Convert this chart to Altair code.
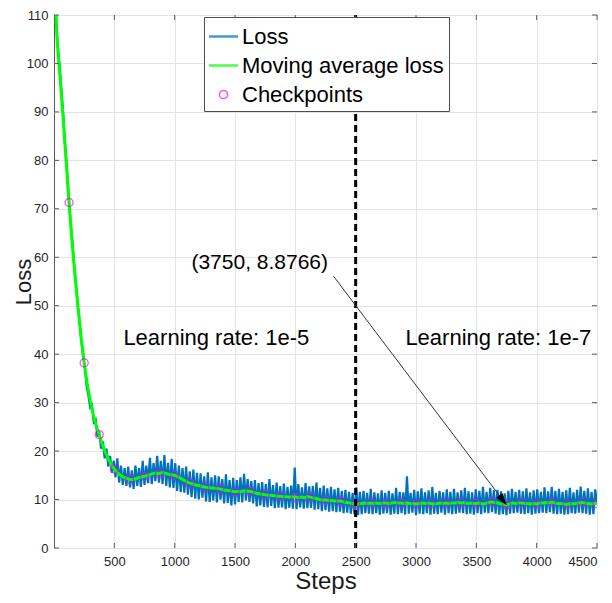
import altair as alt
import pandas as pd

FONT = "Liberation Sans"
FRAME = "#5a5a5a"

# ---------------- data ----------------
x_ticks = [500, 1000, 1500, 2000, 2500, 3000, 3500, 4000, 4500]
y_ticks = [0, 10, 20, 30, 40, 50, 60, 70, 80, 90, 100, 110]

loss_steps = list(range(0, 4501, 15))
loss_values = [
    125, 110, 104, 100, 95, 90, 84, 79, 73, 68,
    64, 59, 55, 50.5, 47, 43, 40, 37.5, 33.5, 31.5,
    29, 29.5, 26, 26.5, 23, 24, 20.5, 22, 18.5, 20.5,
    16.8, 19, 15.5, 18, 14.6, 18.5, 13.5, 17, 13, 16.5,
    12.8, 16.8, 12.5, 16, 12.2, 17, 12.8, 16.5, 12.6, 18,
    13, 17, 13.4, 18.6, 13.2, 17.5, 13.8, 19, 13.5, 18,
    13.2, 19.2, 12.8, 17.6, 12.5, 18.4, 12.4, 17.5, 11.8, 17,
    11.5, 16.5, 11.4, 16.8, 11, 15.8, 10.5, 16.2, 10.2, 15.5,
    10, 15.4, 10.4, 14.8, 9.6, 15.6, 9.5, 14.6, 9.8, 15,
    9.4, 14.8, 10, 14.2, 9.2, 15.2, 9.3, 14, 8.8, 14.5,
    9, 14, 9.5, 14.6, 9.4, 15.3, 9.8, 14.2, 9.5, 13.8,
    9.2, 14, 8.6, 13.4, 8.8, 13.6, 8.5, 13.2, 8.4, 14.2,
    8.7, 13, 8.2, 13.5, 8.3, 12.8, 8.4, 13.3, 8, 12.6,
    8.3, 12.9, 8.1, 16.6, 8.0, 13.2, 8.4, 12.5, 8.1, 13.4,
    8.2, 12.7, 8.3, 12.8, 7.9, 13.5, 8, 12.4, 7.6, 12.9,
    7.8, 12.3, 7.5, 12.6, 7.6, 12.1, 7.4, 12.4, 7.5, 11.8,
    7.2, 12, 7.3, 11.6, 7.1, 11.4, 7, 12.5, 6.8, 11.6,
    7, 11.8, 7.2, 11.4, 7.1, 12.2, 7, 11.5, 7.2, 11.3,
    6.9, 11.9, 7.1, 11.4, 7.2, 11.8, 6.9, 11.3, 7.1, 12.4,
    7, 11.6, 7.2, 11.5, 6.9, 14.8, 7.1, 11.4, 7.3, 12,
    6.8, 11.7, 7.1, 12.3, 7, 11.5, 7.2, 11.9, 6.9, 12.6,
    7.1, 11.4, 7, 11.8, 7.3, 11.5, 6.9, 12.1, 7.2, 11.6,
    7, 12.2, 7.1, 11.5, 7.3, 11.9, 7.2, 12.4, 7, 11.7,
    7.1, 11.5, 6.9, 12.1, 7.2, 11.8, 7, 12.6, 7.3, 11.6,
    7.2, 12.4, 7.4, 11.9, 7.1, 12, 6.9, 11.7, 7, 11.3,
    6.8, 11.8, 7.1, 12.2, 7.2, 11.6, 7.3, 12, 7.1, 11.7,
    7, 12.3, 7.2, 11.5, 6.9, 11.9, 7.1, 12.1, 7.2, 11.6,
    7.3, 12.5, 7.2, 11.7, 7.4, 12.6, 7.1, 11.8, 7, 12.2,
    7.1, 11.6, 6.9, 11.9, 7, 12.4, 7.2, 11.5, 7.1, 12,
    7.3, 12.7, 7.2, 11.8, 7.1, 12.3, 6.9, 11.6, 7, 12.1,
    9.2,
]

ma_steps = list(range(0, 4501, 25))
ma_values = [
    122, 105, 97, 89, 80, 71.3, 63, 56, 49.5, 43.5,
    38.2, 34, 30.5, 27.5, 25.2, 23.4, 21.4, 19.8, 18.4, 17.2,
    16.3, 15.6, 15.0, 14.6, 14.4, 14.2, 14.1, 14.3, 14.5, 14.7,
    14.8, 15.0, 15.2, 15.4, 15.5, 15.4, 15.6, 15.4, 15.2, 15.1,
    15.0, 14.7, 14.4, 14.0, 13.7, 13.4, 13.2, 13.0, 12.9, 12.7,
    12.6, 12.5, 12.4, 12.4, 12.3, 12.2, 12.0, 11.9, 11.8, 11.7,
    11.6, 11.7, 11.6, 11.8, 11.7, 11.7, 11.5, 11.3, 11.2, 11.1,
    11.0, 10.9, 10.9, 10.8, 10.7, 10.7, 10.6, 10.6, 10.5, 10.5,
    10.5, 10.4, 10.5, 10.4, 10.6, 10.5, 10.3, 10.2, 10.0, 9.9,
    9.9, 9.8, 9.8, 9.7, 9.7, 9.7, 9.5, 9.4, 9.3, 9.2,
    8.9, 9.1, 9.2, 9.3, 9.2, 9.3, 9.2, 9.3, 9.2, 9.3,
    9.3, 9.2, 9.3, 9.4, 9.3, 9.3, 9.2, 9.3, 9.2, 9.2,
    9.1, 9.2, 9.3, 9.2, 9.3, 9.2, 9.1, 9.2, 9.3, 9.2,
    9.3, 9.2, 9.3, 9.3, 9.4, 9.3, 9.4, 9.2, 9.3, 9.2,
    9.2, 9.3, 9.1, 9.2, 9.4, 9.5, 9.4, 9.3, 9.1, 9.0,
    8.9, 9.1, 9.3, 9.2, 9.3, 9.3, 9.2, 9.2, 9.1, 9.2,
    9.1, 9.3, 9.3, 9.4, 9.3, 9.5, 9.3, 9.2, 9.2, 9.1,
    9.0, 9.2, 9.1, 9.2, 9.3, 9.4, 9.3, 9.2, 9.1, 9.2,
    9.2,
]

ckpt_steps = list(range(125, 4501, 125))
ckpt_values = [
    71.3, 38.2, 23.4, 16.3, 14.2, 14.8, 15.3, 15.0, 13.4, 12.6,
    12.2, 11.6, 11.7, 11.0, 10.7, 10.4, 10.6, 9.9, 9.7, 8.9,
    9.3, 9.2, 9.3, 9.1, 9.2, 9.3, 9.3, 9.2, 9.5, 8.9,
    9.3, 9.1, 9.5, 9.0, 9.4, 9.2,
]

series_names = ["Loss", "Moving average loss", "Checkpoints"]
series_colors = ["#0072bd", "#00ff00", "#ff00ff"]
LINE_PATH = "M-1,-0.04 L1,-0.04 L1,0.04 L-1,0.04 Z"
CIRCLE_PATH = "M-0.3,0 A0.3,0.3 0 1,1 0.3,0 A0.3,0.3 0 1,1 -0.3,0 Z"
series_shapes = [LINE_PATH, LINE_PATH, CIRCLE_PATH]

lr_switch_step = [2500]
lr_label_steps = [575, 2912]
lr_label_loss = [43.3, 43.3]
lr_labels = ["Learning rate: 1e-5", "Learning rate: 1e-7"]

note_step, note_loss = [1139], [58.8]
note_label = ["(3750, 8.8766)"]
arrow_from = (2316, 56.1)
arrow_to = (3750, 8.8766)

# ---------------- chart ----------------
W, H = 543, 533
TICK = 5

loss_df = pd.DataFrame({"step": loss_steps, "loss": loss_values, "series": "Loss"})
ma_df = pd.DataFrame({"step": ma_steps, "loss": ma_values, "series": "Moving average loss"})
ck_df = pd.DataFrame({"step": ckpt_steps, "loss": ckpt_values, "series": "Checkpoints"})

xscale = alt.Scale(domain=[0, 4500], nice=False, zero=False)
yscale = alt.Scale(domain=[0, 110], nice=False)

legend = alt.Legend(
    title=None, orient="none", legendX=150, legendY=2,
    fillColor="white", strokeColor="#4d4d4d", padding=5, cornerRadius=0,
    labelFont=FONT, labelFontSize=22, labelColor="black", labelOffset=4,
    labelLimit=400, rowPadding=3, symbolSize=750, symbolStrokeWidth=1.5,
)
cscale = alt.Scale(domain=series_names, range=series_colors)
sscale = alt.Scale(domain=series_names, range=series_shapes)

x_axis = alt.Axis(
    values=x_ticks, title="Steps", format="d", ticks=False, domain=False, grid=True,
    gridColor="#e4e4e4", labelFont=FONT, labelFontSize=13, labelColor="#262626",
    labelPadding=7, titleFont=FONT, titleFontSize=24, titleFontWeight="normal",
    titleColor="#1a1a1a", titleBaseline="alphabetic", titleY=40,
    labelOverlap=False, labelFlush=True,
)
y_axis = alt.Axis(
    values=y_ticks, title="Loss", format="d", ticks=False, domain=False, grid=True,
    gridColor="#e4e4e4", labelFont=FONT, labelFontSize=13, labelColor="#262626",
    labelPadding=6, titleFont=FONT, titleFontSize=22, titleFontWeight="normal",
    titleColor="#1a1a1a", titleBaseline="alphabetic", titleX=-24,
    labelOverlap=False,
)
X = alt.X("step:Q", scale=xscale, axis=x_axis)
Y = alt.Y("loss:Q", scale=yscale, axis=y_axis)

loss_line = alt.Chart(loss_df).mark_line(strokeWidth=2.2, clip=True).encode(
    x=X, y=Y, color=alt.Color("series:N", scale=cscale, legend=legend)
)
ma_line = alt.Chart(ma_df).mark_line(strokeWidth=3, clip=True).encode(
    x=X, y=Y, color=alt.Color("series:N", scale=cscale, legend=legend)
)
ck_points = alt.Chart(ck_df).mark_point(filled=False, size=711, strokeWidth=1.3, clip=True).encode(
    x=X, y=Y,
    color=alt.Color("series:N", scale=cscale, legend=legend),
    shape=alt.Shape("series:N", scale=sscale, legend=legend),
)

switch_rule = alt.Chart(pd.DataFrame({"step": lr_switch_step})).mark_rule(
    color="black", strokeWidth=3, strokeDash=[7, 4]
).encode(x=X)

xt = pd.DataFrame({"step": x_ticks})
yt = pd.DataFrame({"loss": y_ticks})
tick_bottom = alt.Chart(xt).mark_rule(color=FRAME, strokeWidth=1).encode(
    x=X, y=alt.value(H), y2=alt.value(H - TICK))
tick_top = alt.Chart(xt).mark_rule(color=FRAME, strokeWidth=1).encode(
    x=X, y=alt.value(0), y2=alt.value(TICK))
tick_left = alt.Chart(yt).mark_rule(color=FRAME, strokeWidth=1).encode(
    y=Y, x=alt.value(0), x2=alt.value(TICK))
tick_right = alt.Chart(yt).mark_rule(color=FRAME, strokeWidth=1).encode(
    y=Y, x=alt.value(W - TICK), x2=alt.value(W))

arrow_df = pd.DataFrame({
    "step": [arrow_from[0]], "loss": [arrow_from[1]],
    "step2": [arrow_to[0]], "loss2": [arrow_to[1]],
})
arrow_line = alt.Chart(arrow_df).mark_rule(color="#333333", strokeWidth=1).encode(
    x=X, y=Y, x2="step2:Q", y2="loss2:Q")
head_df = pd.DataFrame({"step": [arrow_to[0]], "loss": [arrow_to[1]]})
arrow_head = alt.Chart(head_df).mark_point(
    shape="M0,0 L-0.32,1 L0.32,1 Z", filled=True, color="black", opacity=1,
    size=576, angle=143,
).encode(x=X, y=Y)

note_text = alt.Chart(pd.DataFrame({"step": note_step, "loss": note_loss, "label": note_label})).mark_text(
    align="left", baseline="middle", font=FONT, fontSize=21, color="black"
).encode(x=X, y=Y, text="label:N")

lr_text = alt.Chart(pd.DataFrame({"step": lr_label_steps, "loss": lr_label_loss, "label": lr_labels})).mark_text(
    align="left", baseline="middle", font=FONT, fontSize=22, color="black"
).encode(x=X, y=Y, text="label:N")

chart = alt.layer(
    loss_line, ma_line, ck_points, switch_rule,
    tick_bottom, tick_top, tick_left, tick_right,
    arrow_line, arrow_head, note_text, lr_text,
).properties(
    width=W, height=H,
    autosize=alt.AutoSizeParams(type="none"),
    padding={"left": 46, "top": 7, "right": 7, "bottom": 47},
).configure_view(stroke=FRAME, strokeWidth=1)

chart.save("out.html", embed_options={"renderer": "svg", "actions": False})
